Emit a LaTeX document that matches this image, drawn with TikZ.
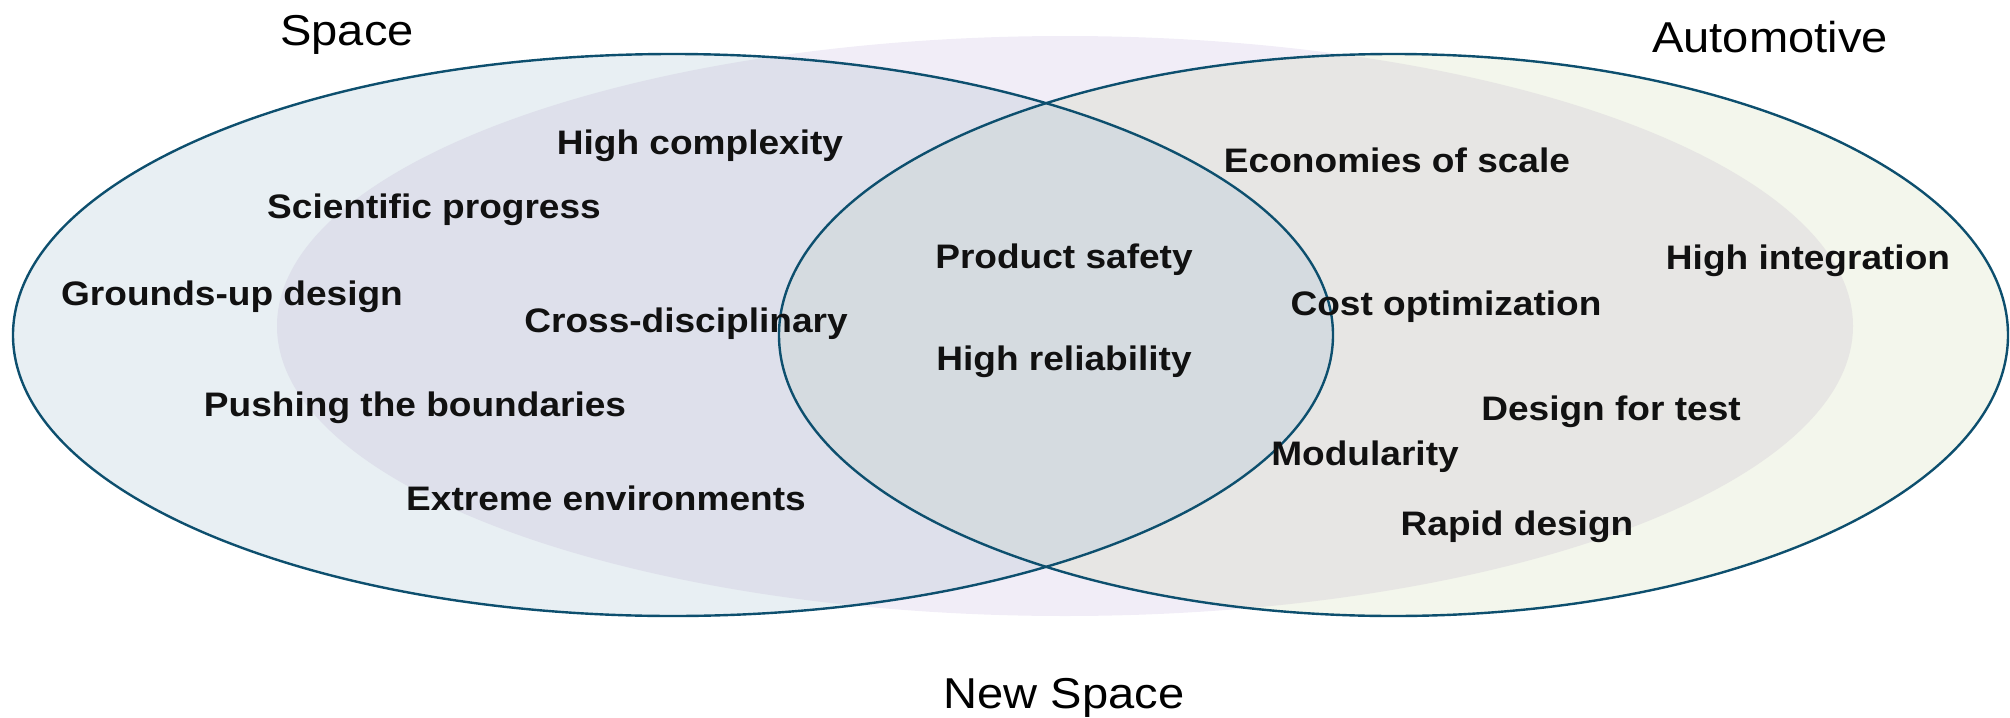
\documentclass[tikz,border=0pt]{standalone}
\usepackage{fontspec}
\setmainfont[FakeStretch=1.09]{Liberation Sans}
\definecolor{edgeC}{HTML}{0D4F6E}
\definecolor{spaceC}{HTML}{E8EFF3}
\definecolor{autoC}{HTML}{F3F6EC}
\definecolor{newC}{HTML}{F1EDF7}
\definecolor{spaceNewC}{HTML}{DEE0EB}
\definecolor{autoNewC}{HTML}{E7E6E4}
\definecolor{allC}{HTML}{D5DBE0}
\definecolor{txtC}{HTML}{111111}
\begin{document}
\begin{tikzpicture}[x=0.5pt,y=-0.5pt,
  item/.style={font=\bfseries\fontsize{17}{20}\selectfont, anchor=base, inner sep=0pt, text=txtC},
  setlabel/.style={font=\fontsize{21.6}{25}\selectfont, anchor=base, inner sep=0pt, text=black},
  ring/.style={draw=edgeC, line width=1.2pt}]
\useasboundingbox (0,0) rectangle (2010,718);
% New Space (background, no outline)
\fill[newC] (1065,326) ellipse [x radius=394pt, y radius=145pt];
% Space and Automotive fills
\fill[spaceC] (673,335) ellipse [x radius=330pt, y radius=140.5pt];
\fill[autoC] (1393.5,335) ellipse [x radius=307.25pt, y radius=140.5pt];
% overlaps with New Space
\begin{scope}
  \clip (1065,326) ellipse [x radius=394pt, y radius=145pt];
  \fill[spaceNewC] (673,335) ellipse [x radius=330pt, y radius=140.5pt];
  \fill[autoNewC] (1393.5,335) ellipse [x radius=307.25pt, y radius=140.5pt];
\end{scope}
% triple overlap
\begin{scope}
  \clip (673,335) ellipse [x radius=330pt, y radius=140.5pt];
  \fill[allC] (1393.5,335) ellipse [x radius=307.25pt, y radius=140.5pt];
\end{scope}
% outlines
\draw[ring] (673,335) ellipse [x radius=330pt, y radius=140.5pt];
\draw[ring] (1393.5,335) ellipse [x radius=307.25pt, y radius=140.5pt];
% set labels
\node[setlabel] (space) at (347,45) {Space};
\node[setlabel] (auto) at (1770,52) {Automotive};
\node[setlabel] (newspace) at (1064,708) {New Space};
% items
\node[item] (hc) at (700,154) {High complexity};
\node[item] (sp) at (434,218) {Scientific progress};
\node[item] (gu) at (232,305) {Grounds-up design};
\node[item] (cd) at (686,332) {Cross-disciplinary};
\node[item] (pb) at (415,416) {Pushing the boundaries};
\node[item] (ee) at (606,510) {Extreme environments};
\node[item] (ps) at (1064,268) {Product safety};
\node[item] (hr) at (1064,370) {High reliability};
\node[item] (es) at (1397,172) {Economies of scale};
\node[item] (hi) at (1808,269) {High integration};
\node[item] (co) at (1446,315) {Cost optimization};
\node[item] (dt) at (1611,420) {Design for test};
\node[item] (mo) at (1365,465) {Modularity};
\node[item] (rd) at (1517,535) {Rapid design};
\end{tikzpicture}
\end{document}
